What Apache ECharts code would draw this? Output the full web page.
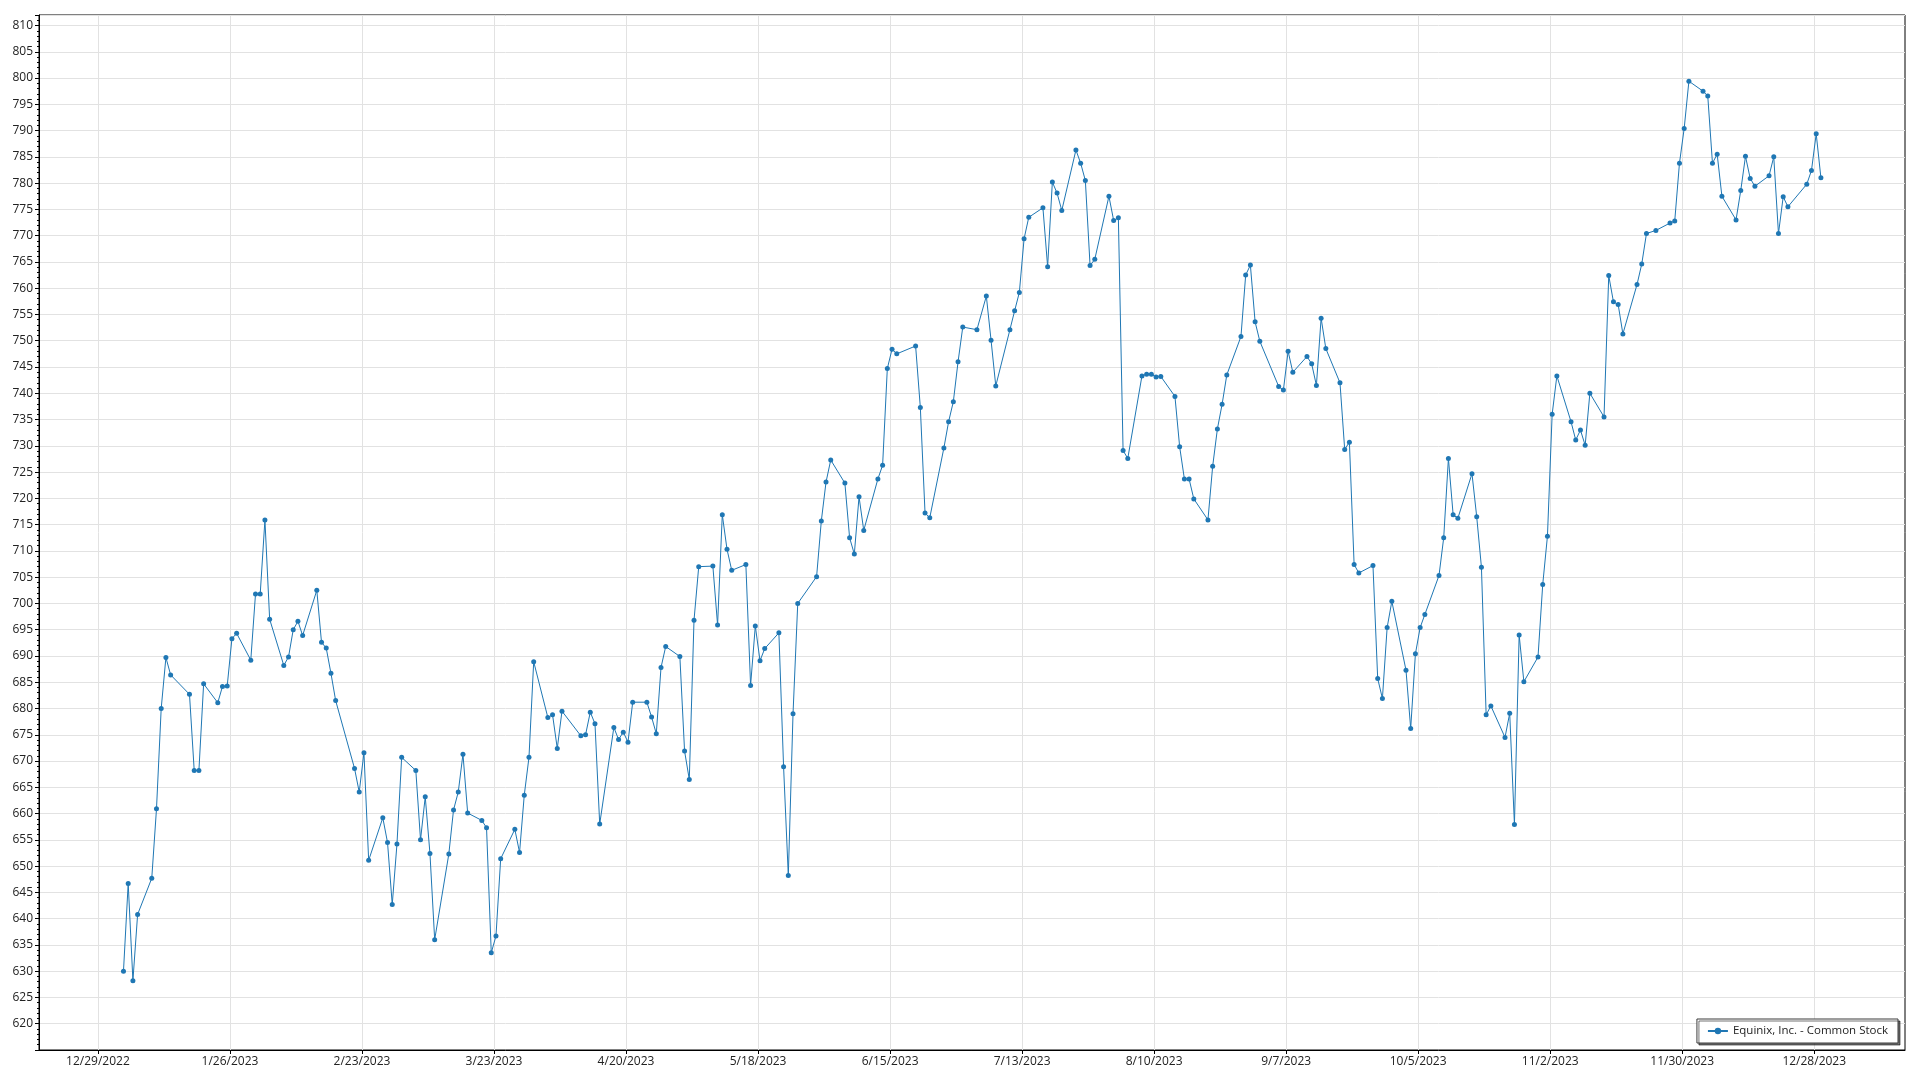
<!DOCTYPE html>
<html>
<head>
<meta charset="utf-8">
<script src="https://cdn.jsdelivr.net/npm/echarts@6/dist/echarts.min.js"></script>
<style>
html,body{margin:0;padding:0;background:#fff;}
#chart{width:1920px;height:1080px;}
</style>
</head>
<body>
<div id="chart"></div>
<script>
const seriesName = 'Equinix, Inc. - Common Stock';

const dates = [
'2023-01-03','2023-01-04','2023-01-05','2023-01-06','2023-01-09','2023-01-10','2023-01-11','2023-01-12','2023-01-13','2023-01-17','2023-01-18','2023-01-19','2023-01-20','2023-01-23','2023-01-24','2023-01-25','2023-01-26','2023-01-27','2023-01-30','2023-01-31',
'2023-02-01','2023-02-02','2023-02-03','2023-02-06','2023-02-07','2023-02-08','2023-02-09','2023-02-10','2023-02-13','2023-02-14','2023-02-15','2023-02-16','2023-02-17','2023-02-21','2023-02-22','2023-02-23','2023-02-24','2023-02-27','2023-02-28',
'2023-03-01','2023-03-02','2023-03-03','2023-03-06','2023-03-07','2023-03-08','2023-03-09','2023-03-10','2023-03-13','2023-03-14','2023-03-15','2023-03-16','2023-03-17','2023-03-20','2023-03-21','2023-03-22','2023-03-23','2023-03-24','2023-03-27','2023-03-28','2023-03-29','2023-03-30','2023-03-31',
'2023-04-03','2023-04-04','2023-04-05','2023-04-06','2023-04-10','2023-04-11','2023-04-12','2023-04-13','2023-04-14','2023-04-17','2023-04-18','2023-04-19','2023-04-20','2023-04-21','2023-04-24','2023-04-25','2023-04-26','2023-04-27','2023-04-28',
'2023-05-01','2023-05-02','2023-05-03','2023-05-04','2023-05-05','2023-05-08','2023-05-09','2023-05-10','2023-05-11','2023-05-12','2023-05-15','2023-05-16','2023-05-17','2023-05-18','2023-05-19','2023-05-22','2023-05-23','2023-05-24','2023-05-25','2023-05-26','2023-05-30','2023-05-31',
'2023-06-01','2023-06-02','2023-06-05','2023-06-06','2023-06-07','2023-06-08','2023-06-09','2023-06-12','2023-06-13','2023-06-14','2023-06-15','2023-06-16','2023-06-20','2023-06-21','2023-06-22','2023-06-23','2023-06-26','2023-06-27','2023-06-28','2023-06-29','2023-06-30',
'2023-07-03','2023-07-05','2023-07-06','2023-07-07','2023-07-10','2023-07-11','2023-07-12','2023-07-13','2023-07-14','2023-07-17','2023-07-18','2023-07-19','2023-07-20','2023-07-21','2023-07-24','2023-07-25','2023-07-26','2023-07-27','2023-07-28','2023-07-31',
'2023-08-01','2023-08-02','2023-08-03','2023-08-04','2023-08-07','2023-08-08','2023-08-09','2023-08-10','2023-08-11','2023-08-14','2023-08-15','2023-08-16','2023-08-17','2023-08-18','2023-08-21','2023-08-22','2023-08-23','2023-08-24','2023-08-25','2023-08-28','2023-08-29','2023-08-30','2023-08-31',
'2023-09-01','2023-09-05','2023-09-06','2023-09-07','2023-09-08','2023-09-11','2023-09-12','2023-09-13','2023-09-14','2023-09-15','2023-09-18','2023-09-19','2023-09-20','2023-09-21','2023-09-22','2023-09-25','2023-09-26','2023-09-27','2023-09-28','2023-09-29',
'2023-10-02','2023-10-03','2023-10-04','2023-10-05','2023-10-06','2023-10-09','2023-10-10','2023-10-11','2023-10-12','2023-10-13','2023-10-16','2023-10-17','2023-10-18','2023-10-19','2023-10-20','2023-10-23','2023-10-24','2023-10-25','2023-10-26','2023-10-27','2023-10-30','2023-10-31',
'2023-11-01','2023-11-02','2023-11-03','2023-11-06','2023-11-07','2023-11-08','2023-11-09','2023-11-10','2023-11-13','2023-11-14','2023-11-15','2023-11-16','2023-11-17','2023-11-20','2023-11-21','2023-11-22','2023-11-24','2023-11-27','2023-11-28','2023-11-29','2023-11-30',
'2023-12-01','2023-12-04','2023-12-05','2023-12-06','2023-12-07','2023-12-08','2023-12-11','2023-12-12','2023-12-13','2023-12-14','2023-12-15','2023-12-18','2023-12-19','2023-12-20','2023-12-21','2023-12-22','2023-12-26','2023-12-27','2023-12-28','2023-12-29'
];

const prices = [
630.0,646.7,628.2,640.8,647.7,660.9,680.0,689.7,686.4,682.7,668.2,668.2,684.7,681.1,684.2,684.3,693.3,694.3,689.2,701.8,
701.8,715.9,697.0,688.2,689.8,695.0,696.6,693.9,702.5,692.6,691.5,686.7,681.5,668.6,664.1,671.6,651.1,659.2,654.5,
642.7,654.2,670.7,668.2,655.0,663.2,652.4,636.0,652.3,660.7,664.1,671.3,660.1,658.7,657.3,633.5,636.7,651.4,657.0,652.6,663.5,670.7,688.9,
678.3,678.8,672.4,679.5,674.8,675.0,679.3,677.1,658.0,676.4,674.1,675.5,673.6,681.2,681.2,678.4,675.2,687.8,691.8,
689.9,671.9,666.5,696.8,707.0,707.1,695.9,716.9,710.3,706.3,707.4,684.4,695.7,689.1,691.4,694.4,668.9,648.2,679.0,700.0,705.1,715.7,
723.1,727.3,722.9,712.5,709.4,720.3,713.9,723.7,726.3,744.7,748.4,747.5,749.0,737.3,717.2,716.3,729.6,734.6,738.4,746.0,752.6,
752.1,758.5,750.1,741.4,752.1,755.7,759.2,769.4,773.5,775.3,764.1,780.2,778.1,774.8,786.3,783.8,780.5,764.3,765.5,777.5,
772.9,773.4,729.1,727.6,743.3,743.6,743.6,743.1,743.2,739.4,729.8,723.7,723.7,719.9,715.9,726.1,733.2,737.9,743.5,750.8,762.5,764.4,753.6,
749.9,741.3,740.6,748.0,744.0,747.0,745.6,741.5,754.3,748.5,742.0,729.3,730.7,707.4,705.8,707.2,685.7,681.9,695.4,700.4,
687.3,676.2,690.4,695.4,697.9,705.3,712.5,727.6,716.9,716.2,724.7,716.5,706.9,678.8,680.5,674.5,679.1,657.9,694.0,685.1,689.8,703.6,
712.8,736.0,743.3,734.6,731.1,733.0,730.1,740.0,735.5,762.4,757.4,756.9,751.3,760.7,764.6,770.4,771.0,772.4,772.8,783.8,790.4,
799.4,797.5,796.6,783.8,785.5,777.5,773.0,778.6,785.1,780.9,779.4,781.4,785.0,770.4,777.4,775.5,779.8,782.4,789.4,781.0
];

const xTickDates = ['2022-12-29','2023-01-26','2023-02-23','2023-03-23','2023-04-20','2023-05-18','2023-06-15','2023-07-13','2023-08-10','2023-09-07','2023-10-05','2023-11-02','2023-11-30','2023-12-28'];

function toTs(s) {
  const p = s.split('-');
  return new Date(+p[0], +p[1] - 1, +p[2]).getTime();
}
const HOUR = 3600 * 1000;
const xMin = toTs('2022-12-16') + 12 * HOUR;
const xMax = toTs('2024-01-16') + 6 * HOUR;
const xTicks = xTickDates.map(toTs);

// observations are stamped at market hours of their trading day
const seriesData = dates.map((d, i) => [toTs(d) + 10 * HOUR, prices[i]]);

const font = '"Open Sans", "Noto Sans", sans-serif';
const chart = echarts.init(document.getElementById('chart'), null, {renderer: 'canvas'});
chart.setOption({
  animation: false,
  backgroundColor: '#ffffff',
  grid: {
    left: 39, right: 15, top: 15, bottom: 30,
    show: true, borderColor: '#000', borderWidth: 1, backgroundColor: 'transparent'
  },
  xAxis: {
    type: 'value',
    min: xMin,
    max: xMax,
    axisLine: {show: true, onZero: false, lineStyle: {color: '#000', width: 1}},
    axisTick: {show: true, length: 4, lineStyle: {color: '#000'}, customValues: xTicks},
    axisLabel: {
      customValues: xTicks,
      fontFamily: font, fontSize: 12, color: '#222', margin: 6,
      hideOverlap: false,
      formatter: function (v) {
        const d = new Date(v);
        return (d.getMonth() + 1) + '/' + d.getDate() + '/' + d.getFullYear();
      }
    },
    splitLine: {show: true, lineStyle: {color: '#e2e2e2', width: 1}},
    minorTick: {show: false}
  },
  yAxis: {
    type: 'value',
    min: 615,
    max: 812,
    interval: 5,
    axisLine: {show: true, lineStyle: {color: '#000', width: 1}},
    axisTick: {show: true, length: 4, lineStyle: {color: '#000'}},
    minorTick: {show: true, splitNumber: 5, length: 2, lineStyle: {color: '#000'}},
    axisLabel: {
      fontFamily: font, fontSize: 12, color: '#222', margin: 6,
      showMinLabel: false, showMaxLabel: false
    },
    splitLine: {show: true, lineStyle: {color: '#e2e2e2', width: 1}}
  },
  legend: {
    show: true,
    right: 22,
    bottom: 37,
    backgroundColor: '#fff',
    borderColor: '#3a3a3a',
    borderWidth: 1,
    padding: [6, 10, 6, 10],
    shadowColor: 'rgba(0,0,0,0.55)',
    shadowOffsetX: 2,
    shadowOffsetY: 2,
    shadowBlur: 0,
    itemWidth: 20,
    itemHeight: 8,
    textStyle: {fontFamily: font, fontSize: 11.5, color: '#222'},
    data: [seriesName]
  },
  series: [{
    name: seriesName,
    type: 'line',
    data: seriesData,
    showSymbol: true,
    showAllSymbol: true,
    symbol: 'circle',
    symbolSize: 5,
    lineStyle: {color: '#1f77b4', width: 1},
    itemStyle: {color: '#1f77b4', borderWidth: 0},
    emphasis: {disabled: true}
  }]
});
</script>
</body>
</html>
